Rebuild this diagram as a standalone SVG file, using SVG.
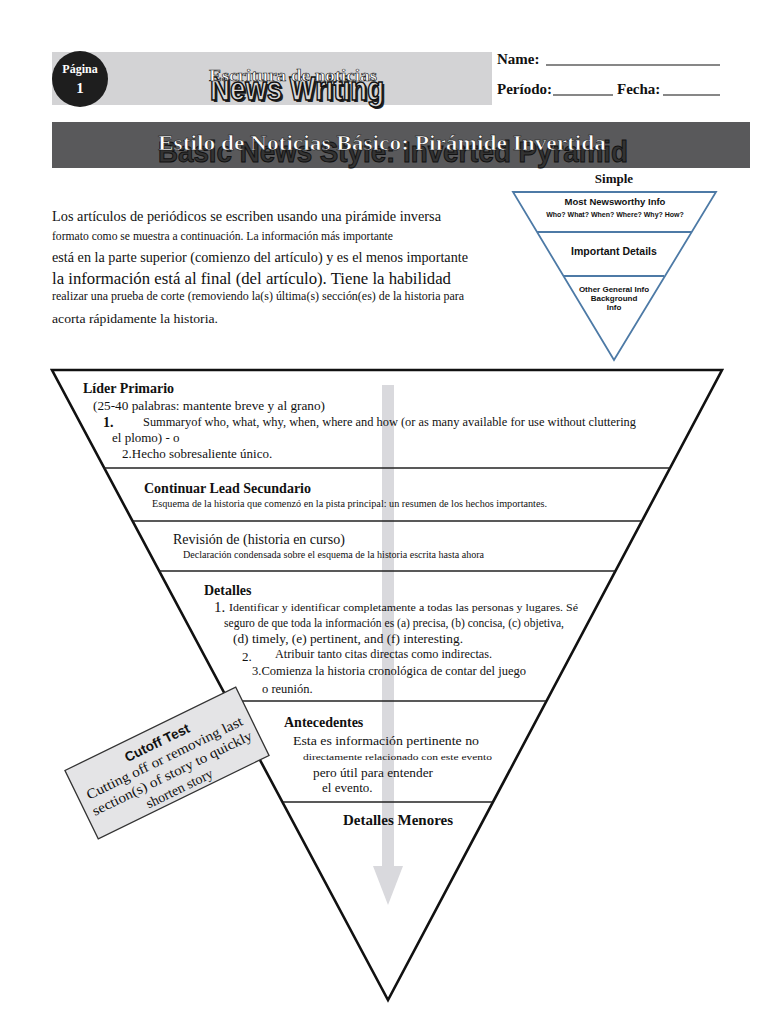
<svg xmlns="http://www.w3.org/2000/svg" width="768" height="1024" viewBox="0 0 768 1024">
<defs>
<style>
.serif{font-family:"Liberation Serif","Times New Roman",serif;fill:#111}
.b{font-weight:bold}
.sans{font-family:"Liberation Sans",Arial,sans-serif;fill:#111}
.div{stroke:#222;stroke-width:1.6}
.sp{stroke:#4d7aa6;stroke-width:1.8;fill:none}
</style>
</defs>
<rect width="768" height="1024" fill="#fff"/>

<g id="header">
<rect x="52" y="52" width="440" height="53" fill="#d3d3d5"/>
<circle cx="80" cy="79" r="28" fill="#1e1e1e"/>
<text x="80" y="73" text-anchor="middle" class="serif b" font-size="12" style="fill:#fff">Página</text>
<text x="80" y="93" text-anchor="middle" class="serif b" font-size="15" style="fill:#fff">1</text>
<text x="297" y="100" text-anchor="middle" class="sans b" font-size="33" textLength="174" lengthAdjust="spacingAndGlyphs" style="fill:#222" transform="translate(2,2)">News Writing</text>
<text x="297" y="100" text-anchor="middle" class="sans b" font-size="33" textLength="174" lengthAdjust="spacingAndGlyphs" style="fill:#d8d8d8;stroke:#111;stroke-width:1.6">News Writing</text>
<text x="293" y="81" text-anchor="middle" class="serif b" font-size="17" textLength="168" lengthAdjust="spacingAndGlyphs" style="fill:#fff;stroke:#222;stroke-width:0.6">Escritura de noticias</text>
</g>

<g id="name-fields">
<text x="497" y="64" class="serif b" font-size="15">Name:</text>
<line x1="546" y1="65" x2="720" y2="65" stroke="#111" stroke-width="1.2"/>
<text x="497" y="94" class="serif b" font-size="15">Período:</text>
<line x1="553" y1="95" x2="613" y2="95" stroke="#111" stroke-width="1.2"/>
<text x="617" y="94" class="serif b" font-size="15">Fecha:</text>
<line x1="663" y1="95" x2="720" y2="95" stroke="#111" stroke-width="1.2"/>
</g>

<g id="title">
<rect x="52" y="122" width="698" height="46" fill="#59595b"/>
<text x="393" y="162" text-anchor="middle" class="sans b" font-size="30" textLength="470" lengthAdjust="spacingAndGlyphs" style="fill:#333;stroke:#111;stroke-width:1">Basic News Style: Inverted Pyramid</text>
<text x="382" y="150" text-anchor="middle" class="serif b" font-size="20" textLength="448" lengthAdjust="spacingAndGlyphs" style="fill:#fff;stroke:#111;stroke-width:0.5">Estilo de Noticias Básico: Pirámide Invertida</text>
</g>

<g id="intro">
<text x="52" y="221" class="serif" font-size="14" textLength="389" lengthAdjust="spacingAndGlyphs">Los artículos de periódicos se escriben usando una pirámide inversa</text>
<text x="52" y="240" class="serif" font-size="12.5" textLength="341" lengthAdjust="spacingAndGlyphs">formato como se muestra a continuación. La información más importante</text>
<text x="52" y="262" class="serif" font-size="14.5" textLength="416" lengthAdjust="spacingAndGlyphs">está en la parte superior (comienzo del artículo) y es el menos importante</text>
<text x="52" y="284" class="serif" font-size="17" textLength="399" lengthAdjust="spacingAndGlyphs">la información está al final (del artículo). Tiene la habilidad</text>
<text x="52" y="300" class="serif" font-size="12" textLength="412" lengthAdjust="spacingAndGlyphs">realizar una prueba de corte (removiendo la(s) última(s) sección(es) de la historia para</text>
<text x="52" y="323" class="serif" font-size="13.5" textLength="166" lengthAdjust="spacingAndGlyphs">acorta rápidamente la historia.</text>
</g>

<g id="simple-pyramid">
<text x="614" y="183" text-anchor="middle" class="serif b" font-size="13">Simple</text>
<polygon points="513,192 716,192 614,360" class="sp"/>
<line x1="537" y1="232" x2="692" y2="232" class="sp"/>
<line x1="564" y1="276" x2="664" y2="276" class="sp"/>
<text x="615" y="205" text-anchor="middle" class="sans b" font-size="9.5">Most Newsworthy Info</text>
<text x="615" y="217" text-anchor="middle" class="sans b" font-size="7">Who? What? When? Where? Why? How?</text>
<text x="614" y="255" text-anchor="middle" class="sans b" font-size="10.5">Important Details</text>
<text x="614" y="292" text-anchor="middle" class="sans b" font-size="8">Other General Info</text>
<text x="614" y="301" text-anchor="middle" class="sans b" font-size="8">Background</text>
<text x="614" y="310" text-anchor="middle" class="sans b" font-size="8">Info</text>
</g>

<g id="arrow">
<rect x="382" y="385" width="12" height="485" fill="#d9d9dd"/>
<polygon points="373,866 403,866 388,905" fill="#d9d9dd"/>
</g>

<g id="connectors">
<polygon points="52,370 722,370 388,1000" fill="none" stroke="#111" stroke-width="2.6"/>
<line x1="104" y1="468" x2="670" y2="468" class="div"/>
<line x1="133" y1="521" x2="642" y2="521" class="div"/>
<line x1="159" y1="571" x2="615" y2="571" class="div"/>
<line x1="229" y1="701" x2="546" y2="701" class="div"/>
<line x1="283" y1="802" x2="492" y2="802" class="div"/>
</g>

<g id="lider-primario">
<text x="83" y="393" class="serif b" font-size="14">Líder Primario</text>
<text x="93" y="410" class="serif" font-size="13" textLength="232" lengthAdjust="spacingAndGlyphs">(25-40 palabras: mantente breve y al grano)</text>
<text x="103" y="427" class="serif b" font-size="14">1.</text>
<text x="143" y="426" class="serif" font-size="13" textLength="493" lengthAdjust="spacingAndGlyphs">Summaryof who, what, why, when, where and how (or as many available for use without cluttering</text>
<text x="112" y="442" class="serif" font-size="13">el plomo) - o</text>
<text x="122" y="458" class="serif" font-size="13">2.Hecho sobresaliente único.</text>
</g>

<g id="lead-secundario">
<text x="144" y="493" class="serif b" font-size="14">Continuar Lead Secundario</text>
<text x="152" y="507" class="serif" font-size="9.5" textLength="395" lengthAdjust="spacingAndGlyphs">Esquema de la historia que comenzó en la pista principal: un resumen de los hechos importantes.</text>
</g>

<g id="revision">
<text x="173" y="544" class="serif" font-size="14">Revisión de (historia en curso)</text>
<text x="183" y="558" class="serif" font-size="9.5" textLength="301" lengthAdjust="spacingAndGlyphs">Declaración condensada sobre el esquema de la historia escrita hasta ahora</text>
</g>

<g id="detalles">
<text x="204" y="595" class="serif b" font-size="14">Detalles</text>
<text x="214" y="612" class="serif" font-size="15">1.</text>
<text x="229" y="611" class="serif" font-size="10.5" textLength="349" lengthAdjust="spacingAndGlyphs">Identificar y identificar completamente a todas las personas y lugares. Sé</text>
<text x="224" y="627" class="serif" font-size="12.5" textLength="340" lengthAdjust="spacingAndGlyphs">seguro de que toda la información es (a) precisa, (b) concisa, (c) objetiva,</text>
<text x="233" y="643" class="serif" font-size="13.5" textLength="230" lengthAdjust="spacingAndGlyphs">(d) timely, (e) pertinent, and (f) interesting.</text>
<text x="242" y="661" class="serif" font-size="13">2.</text>
<text x="275" y="658" class="serif" font-size="12" textLength="217" lengthAdjust="spacingAndGlyphs">Atribuir tanto citas directas como indirectas.</text>
<text x="252" y="675" class="serif" font-size="12.5" textLength="274" lengthAdjust="spacingAndGlyphs">3.Comienza la historia cronológica de contar del juego</text>
<text x="262" y="693" class="serif" font-size="12.5">o reunión.</text>
</g>

<g id="antecedentes">
<text x="284" y="727" class="serif b" font-size="14">Antecedentes</text>
<text x="293" y="745" class="serif" font-size="13.5" textLength="186" lengthAdjust="spacingAndGlyphs">Esta es información pertinente no</text>
<text x="303" y="760" class="serif" font-size="9" textLength="189" lengthAdjust="spacingAndGlyphs">directamente relacionado con este evento</text>
<text x="313" y="777" class="serif" font-size="13" textLength="120" lengthAdjust="spacingAndGlyphs">pero útil para entender</text>
<text x="322" y="792" class="serif" font-size="13">el evento.</text>
</g>

<g id="detalles-menores">
<text x="343" y="825" class="serif b" font-size="14" textLength="110" lengthAdjust="spacingAndGlyphs">Detalles Menores</text>
</g>

<g id="cutoff-test" transform="translate(167,763) rotate(-26)">
<rect x="-95" y="-38" width="190" height="76" fill="#e4e4e6" stroke="#333" stroke-width="1.3"/>
<text x="0" y="-18" text-anchor="middle" class="sans b" font-size="13.5">Cutoff Test</text>
<text x="0" y="-1" text-anchor="middle" class="serif" font-size="14" textLength="172" lengthAdjust="spacingAndGlyphs">Cutting off or removing last</text>
<text x="0" y="16" text-anchor="middle" class="serif" font-size="14" textLength="176" lengthAdjust="spacingAndGlyphs">section(s) of story to quickly</text>
<text x="0" y="33" text-anchor="middle" class="serif" font-size="14">shorten story</text>
</g>
</svg>
